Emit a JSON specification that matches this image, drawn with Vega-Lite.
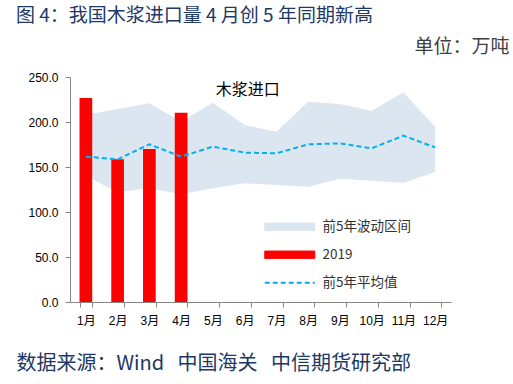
{
  "$schema": "https://vega.github.io/schema/vega-lite/v6.json",
  "autosize": {"type": "none"},
  "width": 381,
  "height": 225,
  "padding": {"left": 70, "top": 77, "right": 62, "bottom": 82},
  "background": "white",
  "title": {
    "text": "图 4：我国木浆进口量 4 月创 5 年同期新高",
    "anchor": "start",
    "frame": "group",
    "dx": -54,
    "offset": 2,
    "baseline": "middle",
    "font": "Noto Sans CJK SC",
    "fontSize": 19,
    "fontWeight": "normal",
    "color": "#203864"
  },
  "data": {
    "values": [
      {"month": "1月", "upper": 208, "lower": 140, "avg": 161.5, "v2019": 226.7},
      {"month": "2月", "upper": 214.4, "lower": 122, "avg": 158.5, "v2019": 158.5},
      {"month": "3月", "upper": 220.7, "lower": 126.3, "avg": 175.2, "v2019": 170},
      {"month": "4月", "upper": 200.4, "lower": 119.6, "avg": 161.5, "v2019": 210.3},
      {"month": "5月", "upper": 221.5, "lower": 126.3, "avg": 172.6, "v2019": null},
      {"month": "6月", "upper": 196.7, "lower": 131.9, "avg": 166, "v2019": null},
      {"month": "7月", "upper": 189.3, "lower": 130, "avg": 165.2, "v2019": null},
      {"month": "8月", "upper": 222.6, "lower": 128.1, "avg": 175.2, "v2019": null},
      {"month": "9月", "upper": 220, "lower": 137, "avg": 176.3, "v2019": null},
      {"month": "10月", "upper": 212.2, "lower": 134.8, "avg": 170.7, "v2019": null},
      {"month": "11月", "upper": 233, "lower": 132.6, "avg": 184.8, "v2019": null},
      {"month": "12月", "upper": 194.8, "lower": 144.4, "avg": 171.8, "v2019": null}
    ]
  },
  "encoding": {
    "x": {
      "field": "month",
      "type": "ordinal",
      "sort": null,
      "scale": {"type": "band", "paddingInner": 0.6, "paddingOuter": 0.3},
      "axis": {
        "title": "数据来源：Wind\u00a0\u00a0\u00a0中国海关\u00a0\u00a0\u00a0中信期货研究部",
        "titleX": -54,
        "titleY": 61,
        "titleAlign": "left",
        "titleBaseline": "middle",
        "titleFont": "Noto Sans CJK SC",
        "titleFontSize": 20,
        "titleFontWeight": "normal",
        "titleColor": "#203864",
        "labelAngle": 0,
        "labelFont": "Liberation Sans, Noto Sans CJK SC",
        "labelFontSize": 12,
        "labelColor": "#000000",
        "labelPadding": 8,
        "tickBand": "extent",
        "tickSize": 5,
        "tickColor": "#868686",
        "domainColor": "#868686",
        "grid": false
      }
    }
  },
  "layer": [
    {
      "mark": {"type": "area", "opacity": 1},
      "encoding": {
        "x": {"field": "month", "type": "ordinal", "sort": null, "bandPosition": 0.5},
        "y": {
          "field": "lower",
          "type": "quantitative",
          "scale": {"domain": [0, 250], "nice": false},
          "axis": {
            "values": [0, 50, 100, 150, 200, 250],
            "format": ".1f",
            "title": "单位：万吨",
            "titleAngle": 0,
            "titleX": 439,
            "titleY": -31,
            "titleAlign": "right",
            "titleBaseline": "middle",
            "titleFont": "Noto Sans CJK SC",
            "titleFontSize": 19,
            "titleFontWeight": "normal",
            "titleColor": "#404040",
            "labelFont": "Liberation Sans",
            "labelFontSize": 12,
            "labelColor": "#000000",
            "labelPadding": 7,
            "tickSize": 5,
            "tickColor": "#868686",
            "domainColor": "#868686",
            "grid": false
          }
        },
        "y2": {"field": "upper"},
        "color": {
          "datum": "前5年波动区间",
          "scale": {
            "domain": ["前5年波动区间", "2019", "前5年平均值"],
            "range": ["#DCE6F1", "#FF0000", "#00B0F0"]
          },
          "legend": {
            "title": null,
            "orient": "none",
            "legendX": 213,
            "legendY": 143,
            "padding": 0,
            "symbolSize": 100,
            "labelOffset": 26,
            "labelFont": "Noto Sans CJK SC",
            "labelFontSize": 13.5,
            "labelColor": "#333333",
            "rowPadding": 13,
            "symbolOpacity": 1,
            "encode": {
              "symbols": {
                "update": {
                  "shape": {"signal": "datum.value === '前5年平均值' ? 'M-5,0H5' : 'M-5,-0.75H5V0.75H-5Z'"},
                  "fill": {"signal": "datum.value === '前5年平均值' ? 'transparent' : (datum.value === '2019' ? '#FF0000' : '#DCE6F1')"},
                  "stroke": {"signal": "datum.value === '前5年平均值' ? '#00B0F0' : (datum.value === '2019' ? '#FF8080' : '#DCE6F1')"},
                  "strokeDash": {"signal": "datum.value === '前5年平均值' ? [5, 3] : [1, 0]"},
                  "strokeWidth": {"signal": "datum.value === '前5年平均值' ? 2 : 1"},
                  "opacity": {"value": 1}
                }
              }
            }
          }
        }
      }
    },
    {
      "transform": [{"filter": "datum.v2019 != null"}],
      "mark": {"type": "bar", "color": "#FF0000"},
      "encoding": {
        "y": {"field": "v2019", "type": "quantitative"},
        "color": {"datum": "2019"}
      }
    },
    {
      "mark": {"type": "line", "strokeWidth": 2, "strokeDash": [5, 3]},
      "encoding": {
        "x": {"field": "month", "type": "ordinal", "sort": null, "bandPosition": 0.5},
        "y": {"field": "avg", "type": "quantitative"},
        "color": {"datum": "前5年平均值"}
      }
    },
    {
      "data": {"values": [{"label": "木浆进口"}]},
      "mark": {"type": "text", "font": "Noto Sans CJK SC", "fontSize": 16, "fontWeight": "normal", "fill": "#000000", "baseline": "middle", "align": "center", "dx": 3},
      "encoding": {
        "text": {"field": "label"},
        "x": {"datum": "6月", "bandPosition": 0.5},
        "y": {"datum": 235.6}
      }
    }
  ],
  "config": {
    "view": {"stroke": null}
  }
}
